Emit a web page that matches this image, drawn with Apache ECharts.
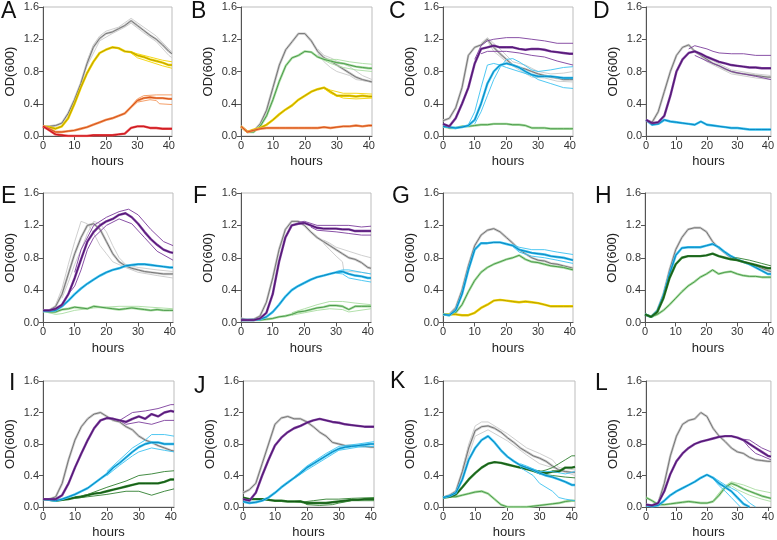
<!DOCTYPE html>
<html><head><meta charset="utf-8">
<script src="https://cdn.jsdelivr.net/npm/echarts@6.0.0/dist/echarts.min.js"></script>
<style>html,body{margin:0;padding:0;background:#fff}#c{width:777px;height:540px}</style>
</head><body><div id="c"></div>
<script>
const HOURS = [0,2,4,6,8,10,12,14,16,18,20,22,24,26,28,30,32,34,36,38,40,41];
const X_TICKS = [0,10,20,30,40];
const LETTERS = ['A','B','C','D','E','F','G','H','I','J','K','L'];

// Panel A
const A_gray = [0.12,0.12,0.13,0.16,0.28,0.45,0.65,0.9,1.1,1.21,1.27,1.29,1.33,1.37,1.43,1.37,1.31,1.25,1.2,1.13,1.05,1.02];
const A_gray_r1 = [[14,0.93],[16,1.13],[18,1.24],[20,1.3],[24,1.35],[28,1.46],[32,1.35],[36,1.24],[40,1.08],[41,1.04]];
const A_gray_r2 = [[14,0.87],[18,1.18],[22,1.27],[26,1.35],[28,1.4],[32,1.28],[36,1.17],[40,1.0],[41,0.97]];
const A_yellow = [0.12,0.11,0.09,0.12,0.22,0.4,0.6,0.78,0.92,1.03,1.07,1.1,1.09,1.05,1.04,1.0,0.98,0.95,0.93,0.91,0.88,0.88];
const A_yellow_r1 = [[28,1.04],[30,1.02],[34,0.98],[38,0.94],[41,0.92]];
const A_yellow_r2 = [[28,1.03],[30,0.97],[34,0.92],[38,0.87],[41,0.84]];
const A_orange = [0.12,0.09,0.05,0.05,0.06,0.07,0.09,0.11,0.14,0.17,0.2,0.22,0.25,0.28,0.36,0.44,0.47,0.48,0.47,0.47,0.46,0.46];
const A_orange_r1 = [[28,0.37],[30,0.46],[32,0.5],[36,0.51],[41,0.51]];
const A_orange_r2 = [[28,0.35],[30,0.42],[34,0.45],[36,0.44],[37,0.4],[41,0.39]];
const A_red = [0.12,0.07,0.02,0.01,0.0,0.0,0.0,0.0,0.01,0.01,0.01,0.01,0.02,0.03,0.1,0.12,0.12,0.1,0.1,0.09,0.09,0.09];

// Panel B
const B_gray = [0.12,0.05,0.06,0.15,0.32,0.6,0.88,1.07,1.17,1.27,1.27,1.18,1.05,0.97,0.93,0.88,0.83,0.78,0.73,0.7,0.68,0.67];
const B_gray_r1 = [[24,1.08],[26,1.0],[28,0.97],[30,0.93],[34,0.86],[38,0.75],[41,0.7]];
const B_gray_r2 = [[24,1.02],[26,0.92],[28,0.85],[30,0.8],[34,0.75],[36,0.7],[41,0.67]];
const B_green = [0.12,0.05,0.05,0.12,0.25,0.45,0.68,0.87,0.97,1.0,1.05,1.04,0.98,0.95,0.93,0.91,0.9,0.88,0.86,0.85,0.84,0.84];
const B_green_r1 = [[26,0.96],[28,0.95],[30,0.95],[34,0.92],[38,0.9],[41,0.89]];
const B_green_r2 = [[26,0.94],[28,0.9],[32,0.85],[36,0.82],[41,0.8]];
const B_yellow = [0.12,0.05,0.08,0.1,0.14,0.2,0.27,0.33,0.38,0.45,0.5,0.55,0.58,0.6,0.55,0.5,0.5,0.5,0.49,0.5,0.49,0.49];
const B_yellow_r1 = [[26,0.6],[28,0.57],[32,0.53],[36,0.53],[41,0.52]];
const B_yellow_r2 = [[26,0.59],[28,0.53],[32,0.47],[36,0.46],[41,0.47]];
const B_orange = [0.12,0.05,0.07,0.09,0.1,0.1,0.1,0.1,0.1,0.1,0.1,0.1,0.1,0.11,0.1,0.11,0.12,0.12,0.13,0.12,0.13,0.13];

// Panel C
const C_gray = [0.19,0.22,0.35,0.6,1.0,1.1,1.13,1.2,1.1,1.02,0.95,0.88,0.85,0.83,0.8,0.77,0.75,0.73,0.72,0.7,0.7,0.7];
const C_gray_r1 = [[12,1.15],[14,1.22],[18,1.08],[22,0.92],[26,0.88],[30,0.8],[34,0.77],[38,0.78],[41,0.8]];
const C_gray_r2 = [[14,1.18],[16,1.05],[20,0.92],[24,0.82],[28,0.73],[32,0.72],[36,0.68],[41,0.67]];
const C_purple = [0.15,0.12,0.22,0.4,0.6,0.9,1.08,1.1,1.12,1.1,1.1,1.1,1.08,1.07,1.08,1.08,1.07,1.05,1.04,1.03,1.02,1.02];
const C_purple_r1 = [[10,0.95],[12,1.12],[14,1.18],[16,1.2],[20,1.22],[24,1.22],[28,1.2],[32,1.18],[36,1.15],[41,1.15]];
const C_purple_r2 = [[12,1.02],[14,1.05],[20,1.05],[24,1.03],[28,1.0],[32,0.98],[36,0.93],[41,0.88]];
const C_cyan = [0.12,0.11,0.1,0.11,0.13,0.2,0.4,0.65,0.8,0.88,0.9,0.88,0.85,0.8,0.76,0.74,0.74,0.74,0.73,0.72,0.72,0.72];
const C_cyan_r1 = [[8,0.14],[10,0.3],[12,0.6],[14,0.88],[16,0.9],[18,0.88],[20,0.85],[24,0.8],[28,0.75],[30,0.7],[34,0.65],[38,0.6],[41,0.59]];
const C_cyan_r2 = [[10,0.15],[12,0.3],[14,0.5],[16,0.7],[18,0.85],[20,0.95],[22,0.96],[24,0.92],[28,0.82],[30,0.8],[34,0.82],[38,0.85],[41,0.86]];
const C_green = [0.12,0.1,0.1,0.12,0.12,0.13,0.14,0.14,0.15,0.15,0.15,0.14,0.14,0.13,0.1,0.1,0.1,0.09,0.09,0.09,0.09,0.09];

// Panel D
const D_gray = [0.2,0.17,0.3,0.55,0.8,1.0,1.1,1.13,1.05,1.0,0.95,0.9,0.87,0.83,0.8,0.78,0.77,0.76,0.75,0.74,0.73,0.73];
const D_gray_r1 = [[18,1.02],[20,0.97],[28,0.82],[36,0.77],[41,0.75]];
const D_gray_r2 = [[18,0.98],[20,0.92],[28,0.77],[36,0.72],[41,0.7]];
const D_purple = [0.2,0.16,0.17,0.25,0.5,0.8,0.95,1.03,1.05,1.02,0.98,0.95,0.92,0.9,0.88,0.87,0.86,0.85,0.85,0.84,0.84,0.84];
const D_purple_r1 = [[14,1.08],[16,1.12],[18,1.1],[20,1.08],[22,1.05],[24,1.03],[28,1.02],[32,1.02],[36,1.0],[41,1.0]];
const D_purple_r2 = [[16,1.0],[20,0.93],[24,0.87],[28,0.8],[32,0.77],[36,0.74],[41,0.7]];
const D_cyan = [0.2,0.14,0.15,0.2,0.18,0.17,0.16,0.15,0.14,0.18,0.14,0.13,0.12,0.11,0.1,0.1,0.09,0.08,0.08,0.08,0.08,0.08];

// Panel E
const E_gray = [0.15,0.15,0.2,0.35,0.6,0.85,1.05,1.2,1.22,1.15,1.0,0.85,0.75,0.7,0.67,0.65,0.63,0.62,0.61,0.6,0.6,0.6];
const E_gray_r1 = [[4,0.22],[6,0.42],[8,0.72],[10,1.0],[12,1.25],[14,1.22],[16,1.1],[18,0.95],[20,0.85],[22,0.75],[26,0.68],[30,0.62],[36,0.58],[41,0.55]];
const E_gray_r2 = [[6,0.3],[8,0.5],[10,0.72],[12,0.9],[14,1.1],[16,1.25],[18,1.22],[20,1.12],[22,0.95],[24,0.8],[26,0.72],[30,0.68],[36,0.65],[41,0.63]];
const E_purple = [0.15,0.15,0.17,0.22,0.35,0.55,0.78,1.0,1.12,1.2,1.25,1.28,1.33,1.35,1.3,1.22,1.12,1.03,0.96,0.9,0.87,0.86];
const E_purple_r1 = [[10,0.62],[12,0.9],[16,1.2],[20,1.3],[24,1.37],[27,1.4],[30,1.33],[34,1.15],[38,1.0],[41,0.95]];
const E_purple_r2 = [[8,0.35],[10,0.45],[12,0.65],[14,0.9],[16,1.05],[20,1.2],[24,1.28],[28,1.22],[32,1.05],[36,0.88],[41,0.77]];
const E_cyan = [0.14,0.14,0.15,0.2,0.27,0.35,0.42,0.48,0.53,0.58,0.62,0.65,0.67,0.7,0.71,0.72,0.72,0.71,0.7,0.69,0.68,0.68];
const E_green = [0.14,0.13,0.13,0.16,0.17,0.19,0.18,0.17,0.2,0.19,0.18,0.17,0.16,0.17,0.18,0.17,0.16,0.15,0.16,0.15,0.15,0.15];
const E_green_r1 = [[0,0.14],[4,0.1],[6,0.11],[10,0.15],[16,0.18],[24,0.2],[30,0.2],[41,0.17]];

// Panel F
const F_gray = [0.05,0.03,0.04,0.08,0.25,0.55,0.9,1.15,1.25,1.25,1.2,1.12,1.05,1.0,0.95,0.9,0.85,0.8,0.78,0.74,0.68,0.67];
const F_gray_r1 = [[26,1.02],[28,0.98],[30,0.93],[34,0.88],[38,0.83],[41,0.8]];
const F_gray_r2 = [[26,0.98],[28,0.9],[30,0.82],[32,0.75],[32.5,0.62],[34,0.63],[38,0.62],[41,0.6]];
const F_purple = [0.03,0.03,0.03,0.05,0.12,0.35,0.75,1.05,1.2,1.22,1.23,1.2,1.17,1.16,1.16,1.16,1.15,1.15,1.13,1.13,1.13,1.13];
const F_purple_r1 = [[18,1.24],[20,1.25],[24,1.2],[30,1.2],[34,1.2],[38,1.18],[41,1.19]];
const F_purple_r2 = [[22,1.18],[24,1.14],[30,1.12],[34,1.1],[38,1.08],[41,1.08]];
const F_cyan = [0.03,0.03,0.03,0.04,0.07,0.13,0.22,0.32,0.4,0.45,0.49,0.53,0.56,0.58,0.6,0.62,0.63,0.6,0.58,0.57,0.55,0.55];
const F_cyan_r1 = [[30,0.63],[32,0.65],[34,0.65],[38,0.62],[41,0.6]];
const F_cyan_r2 = [[30,0.61],[32,0.6],[34,0.55],[38,0.52],[41,0.5]];
const F_green = [0.03,0.03,0.03,0.03,0.04,0.05,0.07,0.08,0.1,0.13,0.14,0.16,0.18,0.19,0.21,0.21,0.2,0.16,0.2,0.2,0.2,0.2];
const F_green_r1 = [[16,0.12],[20,0.17],[24,0.22],[28,0.26],[32,0.26],[36,0.24],[41,0.22]];
const F_green_r2 = [[16,0.09],[20,0.12],[24,0.15],[28,0.17],[32,0.16],[34,0.13],[41,0.17]];

// Panel G
const G_gray = [0.1,0.1,0.18,0.4,0.7,0.95,1.08,1.14,1.16,1.12,1.05,0.98,0.9,0.85,0.8,0.77,0.76,0.73,0.72,0.7,0.68,0.67];
const G_cyan = [0.1,0.09,0.15,0.35,0.65,0.9,0.98,0.98,0.99,0.99,0.97,0.95,0.9,0.88,0.86,0.85,0.84,0.82,0.81,0.8,0.78,0.77];
const G_cyan_r1 = [[22,0.96],[24,0.93],[28,0.9],[32,0.9],[36,0.87],[41,0.84]];
const G_cyan_r2 = [[22,0.94],[24,0.87],[28,0.82],[32,0.8],[36,0.77],[41,0.73]];
const G_green = [0.1,0.09,0.12,0.22,0.38,0.52,0.62,0.68,0.72,0.75,0.78,0.8,0.83,0.78,0.75,0.74,0.72,0.7,0.69,0.68,0.66,0.65];
const G_yellow = [0.1,0.1,0.1,0.09,0.09,0.12,0.18,0.22,0.27,0.28,0.27,0.26,0.25,0.26,0.25,0.24,0.22,0.2,0.2,0.2,0.2,0.2];

// Panel H
const H_gray = [0.1,0.07,0.15,0.35,0.65,0.9,1.05,1.15,1.17,1.17,1.12,1.0,0.92,0.86,0.8,0.77,0.75,0.72,0.7,0.67,0.64,0.63];
const H_cyan = [0.1,0.07,0.14,0.33,0.6,0.83,0.92,0.93,0.93,0.93,0.95,0.97,0.93,0.87,0.82,0.78,0.75,0.72,0.68,0.64,0.6,0.6];
const H_dgreen = [0.1,0.07,0.13,0.3,0.55,0.72,0.8,0.82,0.82,0.82,0.83,0.85,0.82,0.8,0.78,0.77,0.75,0.73,0.71,0.69,0.67,0.67];
const H_dgreen_r1 = [[28,0.79],[30,0.8],[34,0.77],[38,0.73],[41,0.7]];
const H_lgreen = [0.1,0.07,0.1,0.15,0.22,0.3,0.38,0.45,0.5,0.56,0.6,0.65,0.6,0.62,0.63,0.6,0.58,0.57,0.57,0.56,0.56,0.56];

// Panel I
const I_gray = [0.1,0.1,0.13,0.3,0.6,0.85,1.02,1.12,1.18,1.2,1.15,1.1,1.08,1.02,0.98,0.9,0.85,0.82,0.78,0.75,0.72,0.71];
const I_purple = [0.1,0.1,0.1,0.15,0.3,0.5,0.68,0.85,1.0,1.1,1.13,1.12,1.1,1.08,1.12,1.15,1.12,1.18,1.15,1.2,1.22,1.21];
const I_purple_r1 = [[24,1.1],[26,1.15],[28,1.2],[32,1.22],[36,1.25],[40,1.3],[41,1.3]];
const I_purple_r2 = [[24,1.1],[26,1.05],[30,1.08],[34,1.05],[38,1.1],[41,1.1]];
const I_cyan = [0.1,0.09,0.08,0.1,0.13,0.16,0.2,0.24,0.3,0.36,0.42,0.5,0.56,0.63,0.7,0.76,0.8,0.82,0.82,0.8,0.8,0.8];
const I_cyan_r1 = [[20,0.45],[24,0.6],[28,0.75],[30,0.8],[32,0.85],[34,0.92],[36,0.92],[38,0.92],[41,0.9]];
const I_cyan_r2 = [[20,0.4],[24,0.53],[28,0.65],[30,0.7],[34,0.75],[38,0.72],[41,0.7]];
const I_dgreen = [0.1,0.09,0.08,0.09,0.1,0.12,0.13,0.15,0.17,0.18,0.2,0.22,0.24,0.26,0.28,0.3,0.3,0.3,0.3,0.32,0.35,0.35];
const I_dgreen_r1 = [[10,0.12],[14,0.16],[20,0.25],[26,0.33],[30,0.4],[34,0.42],[38,0.45],[41,0.46]];
const I_dgreen_r2 = [[10,0.11],[14,0.13],[20,0.16],[26,0.2],[30,0.2],[34,0.15],[38,0.2],[41,0.23]];

// Panel J
const J_gray = [0.18,0.22,0.3,0.55,0.8,1.05,1.13,1.15,1.12,1.12,1.08,1.02,0.95,0.9,0.82,0.8,0.78,0.78,0.78,0.77,0.76,0.76];
const J_purple = [0.1,0.08,0.18,0.4,0.6,0.78,0.88,0.95,1.0,1.03,1.07,1.1,1.12,1.1,1.08,1.07,1.05,1.04,1.03,1.02,1.02,1.02];
const J_cyan = [0.07,0.05,0.06,0.08,0.12,0.18,0.25,0.31,0.37,0.43,0.5,0.55,0.6,0.65,0.7,0.74,0.76,0.77,0.78,0.79,0.8,0.8];
const J_cyan_r1 = [[16,0.38],[20,0.52],[26,0.68],[30,0.77],[36,0.8],[41,0.83]];
const J_cyan_r2 = [[16,0.36],[20,0.47],[26,0.62],[30,0.72],[36,0.76],[41,0.77]];
const J_dgreen = [0.12,0.1,0.1,0.1,0.09,0.08,0.08,0.07,0.07,0.07,0.05,0.05,0.05,0.05,0.06,0.07,0.08,0.09,0.09,0.1,0.1,0.1];
const J_dgreen_r1 = [[16,0.07],[18,0.08],[20,0.03],[24,0.02],[28,0.03],[30,0.05],[34,0.08],[41,0.08]];
const J_dgreen_r2 = [[16,0.07],[18,0.06],[22,0.08],[26,0.1],[30,0.1],[34,0.11],[41,0.12]];

// Panel K
const K_gray = [0.12,0.15,0.2,0.45,0.75,0.97,1.02,1.03,1.0,0.95,0.88,0.82,0.75,0.7,0.65,0.62,0.58,0.52,0.47,0.45,0.44,0.44];
const K_gray_r1 = [[6,0.48],[8,0.8],[10,1.03],[12,1.08],[14,1.08],[20,0.93],[26,0.75],[30,0.68],[34,0.6],[36,0.5],[41,0.47]];
const K_gray_r2 = [[6,0.42],[10,0.9],[14,0.98],[20,0.84],[26,0.66],[30,0.55],[34,0.5],[41,0.4]];
const K_cyan = [0.12,0.14,0.18,0.35,0.6,0.75,0.85,0.9,0.82,0.72,0.64,0.58,0.53,0.5,0.47,0.43,0.4,0.38,0.35,0.32,0.28,0.28];
const K_cyan_r1 = [[24,0.55],[26,0.52],[30,0.45],[34,0.45],[38,0.42],[41,0.45]];
const K_cyan_r2 = [[24,0.5],[26,0.45],[28,0.4],[30,0.3],[32,0.25],[34,0.2],[36,0.12],[38,0.1],[41,0.08]];
const K_dgreen = [0.12,0.13,0.16,0.25,0.35,0.43,0.5,0.55,0.57,0.56,0.54,0.52,0.5,0.48,0.46,0.45,0.43,0.45,0.45,0.5,0.5,0.51];
const K_dgreen_r1 = [[30,0.45],[32,0.47],[34,0.5],[36,0.55],[38,0.6],[40,0.65],[41,0.65]];
const K_dgreen_r2 = [[28,0.45],[30,0.42],[34,0.4],[38,0.38],[41,0.37]];
const K_lgreen = [0.12,0.13,0.13,0.15,0.17,0.19,0.2,0.17,0.1,0.03,0.0,0.0,0.0,0.0,0.01,0.02,0.03,0.04,0.05,0.07,0.08,0.08];

// Panel L
const L_gray = [0.03,0.02,0.05,0.3,0.65,0.9,1.05,1.1,1.12,1.2,1.15,1.0,0.9,0.83,0.75,0.7,0.68,0.63,0.6,0.59,0.58,0.58];
const L_purple = [0.03,0.02,0.05,0.2,0.42,0.58,0.68,0.75,0.8,0.83,0.85,0.87,0.89,0.9,0.9,0.88,0.85,0.8,0.75,0.7,0.65,0.64];
const L_purple_r1 = [[32,0.86],[34,0.85],[36,0.8],[38,0.75],[41,0.7]];
const L_purple_r2 = [[32,0.84],[34,0.75],[36,0.68],[38,0.65],[41,0.6]];
const L_cyan = [0.02,0.01,0.02,0.08,0.15,0.2,0.24,0.28,0.32,0.37,0.41,0.37,0.3,0.25,0.2,0.12,0.04,0.0,null,null,null,null];
const L_cyan_r1 = [[22,0.38],[24,0.33],[26,0.28],[28,0.24],[30,0.2],[32,0.13],[34,0.05],[36,0.0]];
const L_cyan_r2 = [[22,0.36],[24,0.27],[26,0.2],[28,0.12],[30,0.04],[31,0.0]];
const L_green = [0.12,0.08,0.03,0.03,0.04,0.05,0.06,0.07,0.06,0.05,0.05,0.07,0.15,0.25,0.3,0.27,0.23,0.2,0.17,0.14,0.12,0.11];
const L_green_r1 = [[22,0.08],[24,0.18],[26,0.27],[28,0.32],[30,0.3],[32,0.28],[36,0.22],[41,0.18]];
const L_green_r2 = [[26,0.23],[28,0.27],[30,0.22],[34,0.15],[38,0.1],[41,0.07]];

const PALETTE = {
  gray:   {dark:'#767676', light:'#c9c9c9'},
  yellow: {dark:'#b9a000', light:'#f3d400'},
  orange: {dark:'#d5521c', light:'#f39458'},
  red:    {dark:'#c8121c', light:'#e64a4a'},
  green:  {dark:'#4c9b4c', light:'#a9dca2'},
  purple: {dark:'#4e1470', light:'#7c3d9c'},
  cyan:   {dark:'#0a86bf', light:'#3cc2f0'},
  dgreen: {dark:'#145814', light:'#2f7f2f'}
};

const PANELS = [
  [['gray',A_gray,[A_gray_r1,A_gray_r2]],['yellow',A_yellow,[A_yellow_r1,A_yellow_r2]],['orange',A_orange,[A_orange_r1,A_orange_r2]],['red',A_red,[]]],
  [['gray',B_gray,[B_gray_r1,B_gray_r2]],['green',B_green,[B_green_r1,B_green_r2]],['yellow',B_yellow,[B_yellow_r1,B_yellow_r2]],['orange',B_orange,[]]],
  [['gray',C_gray,[C_gray_r1,C_gray_r2]],['green',C_green,[]],['cyan',C_cyan,[C_cyan_r1,C_cyan_r2]],['purple',C_purple,[C_purple_r1,C_purple_r2]]],
  [['gray',D_gray,[D_gray_r1,D_gray_r2]],['cyan',D_cyan,[]],['purple',D_purple,[D_purple_r1,D_purple_r2]]],
  [['gray',E_gray,[E_gray_r1,E_gray_r2]],['green',E_green,[E_green_r1]],['cyan',E_cyan,[]],['purple',E_purple,[E_purple_r1,E_purple_r2]]],
  [['gray',F_gray,[F_gray_r1,F_gray_r2]],['green',F_green,[F_green_r1,F_green_r2]],['cyan',F_cyan,[F_cyan_r1,F_cyan_r2]],['purple',F_purple,[F_purple_r1,F_purple_r2]]],
  [['gray',G_gray,[]],['green',G_green,[]],['yellow',G_yellow,[]],['cyan',G_cyan,[G_cyan_r1,G_cyan_r2]]],
  [['gray',H_gray,[]],['green',H_lgreen,[]],['cyan',H_cyan,[]],['dgreen',H_dgreen,[H_dgreen_r1]]],
  [['gray',I_gray,[]],['dgreen',I_dgreen,[I_dgreen_r1,I_dgreen_r2]],['cyan',I_cyan,[I_cyan_r1,I_cyan_r2]],['purple',I_purple,[I_purple_r1,I_purple_r2]]],
  [['gray',J_gray,[]],['dgreen',J_dgreen,[J_dgreen_r1,J_dgreen_r2]],['cyan',J_cyan,[J_cyan_r1,J_cyan_r2]],['purple',J_purple,[]]],
  [['gray',K_gray,[K_gray_r1,K_gray_r2]],['green',K_lgreen,[]],['dgreen',K_dgreen,[K_dgreen_r1,K_dgreen_r2]],['cyan',K_cyan,[K_cyan_r1,K_cyan_r2]]],
  [['gray',L_gray,[]],['green',L_green,[L_green_r1,L_green_r2]],['cyan',L_cyan,[L_cyan_r1,L_cyan_r2]],['purple',L_purple,[L_purple_r1,L_purple_r2]]]
];

// layout (pixels)
const GEO = [
  [43,7,129,129],[241,7,131,129],[443,7,130,129],[646,7,129,129],
  [43,193,130,129.5],[241,193,130,129.5],[443,193,130,129.5],[645,193,130,129.5],
  [43,381,131,130.5],[243,381,131,130.5],[443,381,132,130.5],[646,381,128,130.5]
];
const LETTER_POS = [[1,0],[191,0],[389,0],[593,0],[1,185],[193,185],[392,185],[595,185],[9,372],[194,375],[390,370],[595,372]];

const FONT = "'Liberation Sans', Arial, Helvetica, sans-serif";
const option = {animation:false, backgroundColor:'#fff', grid:[], xAxis:[], yAxis:[], title:[], series:[]};

PANELS.forEach((groups, i) => {
  const g = GEO[i];
  option.grid.push({left:g[0], top:g[1], width:g[2], height:g[3], show:true, borderColor:'#bdbdbd', borderWidth:1, containLabel:false});
  option.title.push({text:LETTERS[i], left:LETTER_POS[i][0], top:LETTER_POS[i][1], padding:0,
    textStyle:{fontFamily:FONT, fontSize:23, fontWeight:'normal', color:'#111'}});
  option.xAxis.push({type:'value', gridIndex:i, min:0, max:41,
    axisLine:{show:true, onZero:false, lineStyle:{color:'#555', width:1}},
    axisTick:{show:true, inside:false, length:4, customValues:X_TICKS, lineStyle:{color:'#555'}},
    axisLabel:{customValues:X_TICKS, fontFamily:FONT, fontSize:11, color:'#333', margin:4},
    splitLine:{show:false},
    name:'hours', nameLocation:'middle', nameGap:19, nameTextStyle:{fontFamily:FONT, fontSize:13, color:'#222'}});
  option.yAxis.push({type:'value', gridIndex:i, min:0, max:1.6, interval:0.4,
    axisLine:{show:true, onZero:false, lineStyle:{color:'#555', width:1}},
    axisTick:{show:true, inside:false, length:4, lineStyle:{color:'#555'}},
    axisLabel:{fontFamily:FONT, fontSize:11, color:'#333', margin:4, formatter:v=>v.toFixed(1)},
    splitLine:{show:false},
    name:'OD(600)', nameLocation:'middle', nameGap:26, nameTextStyle:{fontFamily:FONT, fontSize:13, color:'#222'}});
  const base = {type:'line', xAxisIndex:i, yAxisIndex:i, showSymbol:false, symbol:'none', silent:true, clip:true, connectNulls:false};
  groups.forEach(([col, mean, reps]) => {
    const c = PALETTE[col];
    const meanData = HOURS.map((h, k) => [h, mean[k]]);
    reps.forEach(r => {
      option.series.push(Object.assign({}, base, {data:r, lineStyle:{color:c.light, width:0.9}}));
    });
    option.series.push(Object.assign({}, base, {data:meanData, lineStyle:{color:c.light, width:2.4}}));
    option.series.push(Object.assign({}, base, {data:meanData, lineStyle:{color:c.dark, width:1}}));
  });
});

const chart = echarts.init(document.getElementById('c'), null, {renderer:'canvas'});
chart.setOption(option);
</script>
</body></html>
